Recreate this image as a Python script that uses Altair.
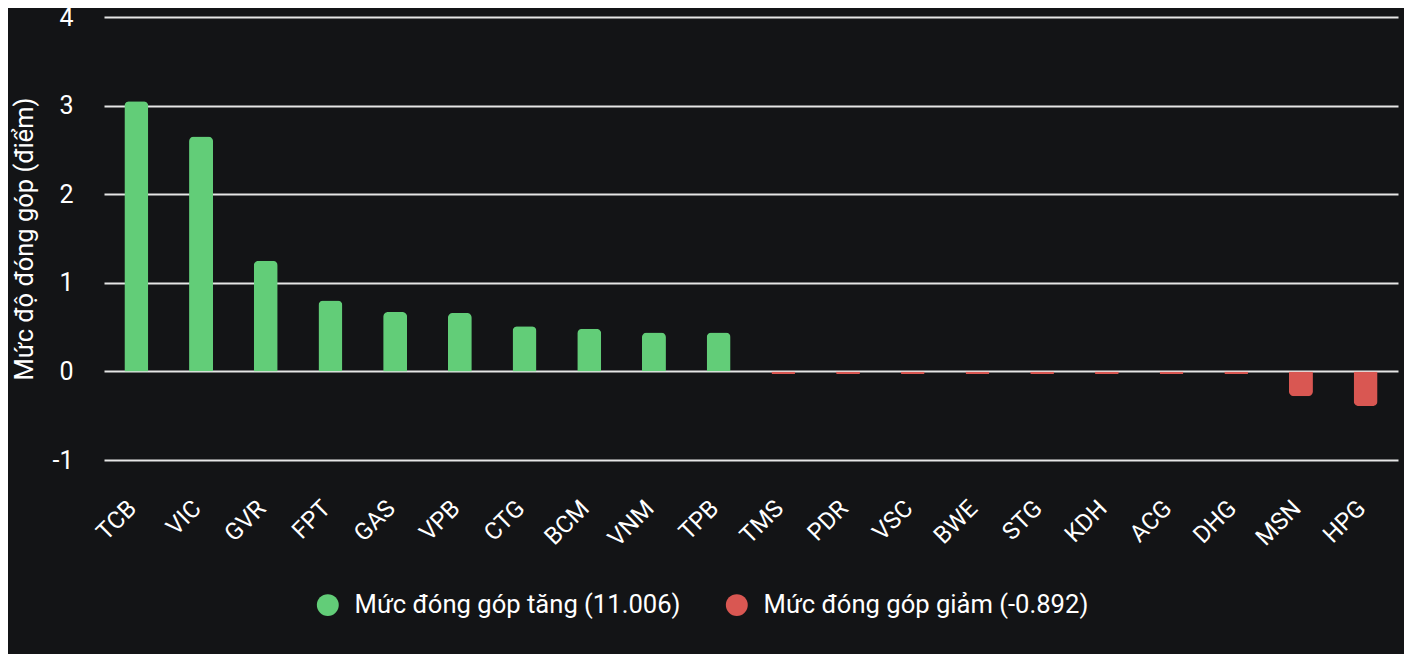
import altair as alt
import pandas as pd

tickers = ["TCB", "VIC", "GVR", "FPT", "GAS", "VPB", "CTG", "BCM", "VNM", "TPB",
           "TMS", "PDR", "VSC", "BWE", "STG", "KDH", "ACG", "DHG", "MSN", "HPG"]
values = [3.05, 2.65, 1.25, 0.80, 0.67, 0.66, 0.51, 0.48, 0.44, 0.44,
          -0.028, -0.028, -0.028, -0.028, -0.028, -0.028, -0.028, -0.028, -0.28, -0.39]
group_up = "Mức đóng góp tăng (11.006)"
group_down = "Mức đóng góp giảm (-0.892)"
y_title = "Mức độ đóng góp (điểm)"

df = pd.DataFrame({
    "ticker": tickers,
    "value": values,
    "group": [group_up if v >= 0 else group_down for v in values],
})

FONT = "Roboto"
BG = "#131416"

base = alt.Chart(df).encode(
    x=alt.X("ticker:N", sort=tickers, title=None,
            scale=alt.Scale(paddingInner=0.6, paddingOuter=0.3),
            axis=alt.Axis(labelAngle=-45, labelFontSize=24, labelColor="#ffffff",
                          labelFont=FONT, ticks=False, domain=False, labelPadding=36,
                          labelOffset=-12, labelAlign="right", labelBaseline="top",
                          grid=False)),
    y=alt.Y("value:Q", title=y_title,
            scale=alt.Scale(domain=[-1, 4], nice=False),
            axis=alt.Axis(values=[-1, 0, 1, 2, 3, 4], labelFontSize=25, labelColor="#ffffff",
                          labelExpr="datum.value < 0 ? '-' + abs(datum.value) : datum.label",
                          labelFont=FONT, titleFont=FONT, titleFontSize=25.5,
                          titleFontWeight="normal", titleColor="#ffffff",
                          ticks=False, domain=False, labelPadding=31, titlePadding=15,
                          gridColor="#e6e6e6", gridWidth=2)),
    color=alt.Color("group:N",
                    scale=alt.Scale(domain=[group_up, group_down], range=["#62cd78", "#d95752"]),
                    legend=alt.Legend(title=None, orient="none", direction="horizontal",
                                      legendX=211, legendY=575,
                                      symbolType="circle", symbolSize=480, symbolStrokeWidth=0,
                                      labelFontSize=25.6, labelFont=FONT, labelColor="#ffffff",
                                      labelOffset=14, columnPadding=43,
                                      labelLimit=500)),
)

pos = base.transform_filter("datum.value >= 0").mark_bar(
    width=24, cornerRadiusTopLeft=5, cornerRadiusTopRight=5)
neg = base.transform_filter("datum.value < 0").mark_bar(
    width=24, cornerRadiusBottomLeft=5, cornerRadiusBottomRight=5)

chart = alt.layer(pos, neg).properties(
    width=1294, height=443,
    background=BG,
    padding={"left": 96, "top": 9, "right": 6, "bottom": 194},
    autosize=alt.AutoSizeParams(type="none"),
).configure_view(stroke=None)

chart.save("out.html", embed_options={"renderer": "svg", "actions": False})
